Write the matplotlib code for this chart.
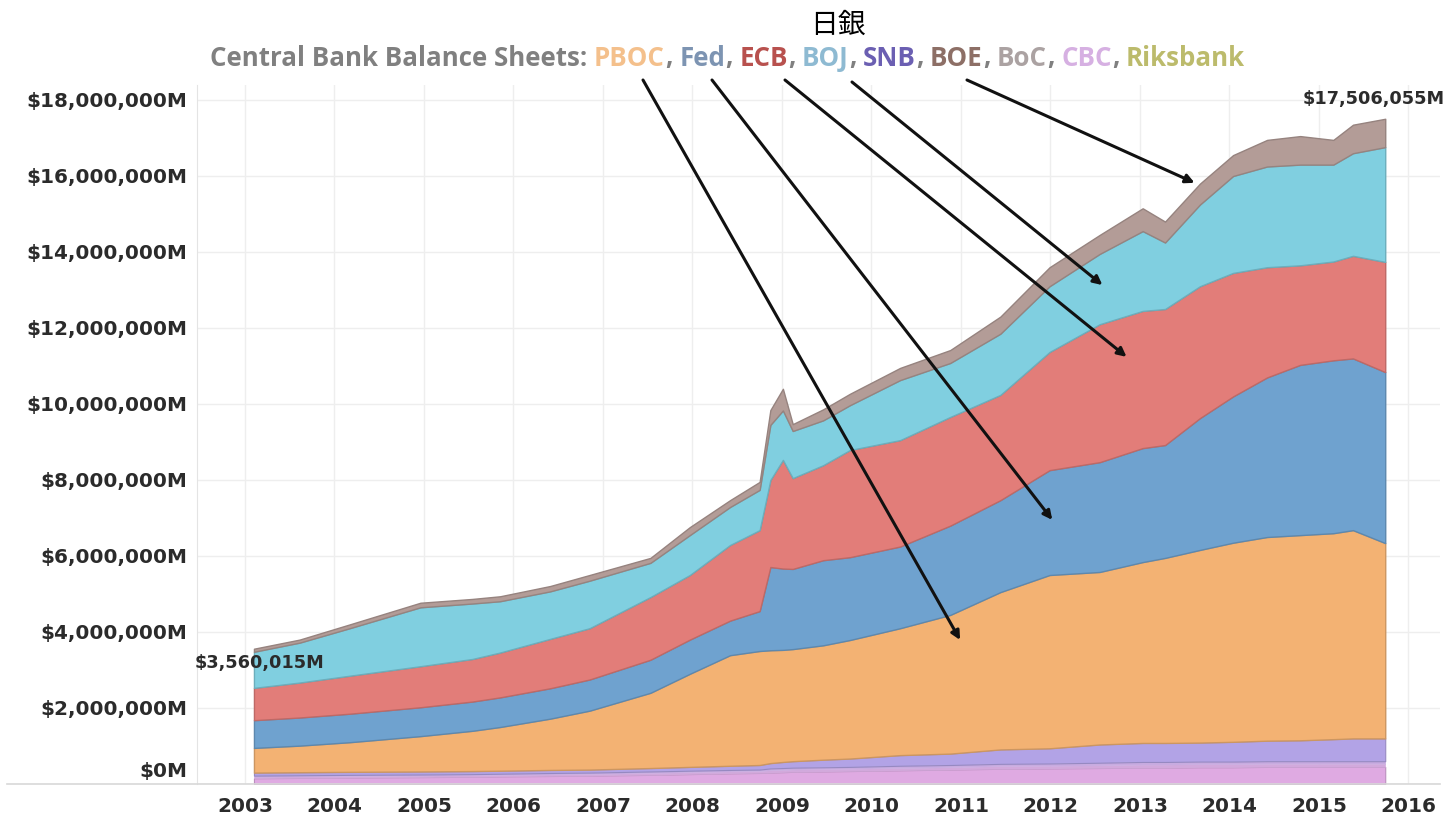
import numpy as np
import matplotlib
matplotlib.use("Agg")
import matplotlib.pyplot as plt
from matplotlib.lines import Line2D
from matplotlib.transforms import ScaledTranslation
from matplotlib.colors import to_rgb

# balance sheets, USD trillion (= $1,000,000M)
dates = [2003.10, 2003.61, 2004.17, 2004.96, 2005.54, 2005.85, 2006.41, 2006.85,
         2007.53, 2007.97, 2008.42, 2008.75, 2008.87, 2009.01, 2009.12, 2009.46,
         2009.76, 2010.32, 2010.88, 2011.44, 2011.99, 2012.55, 2013.03, 2013.28,
         2013.67, 2014.04, 2014.42, 2014.79, 2015.16, 2015.38, 2015.74]

cbc = [0.15, 0.16, 0.17, 0.18, 0.19, 0.20, 0.21, 0.22, 0.24, 0.26, 0.28, 0.29, 0.30, 0.31, 0.32, 0.33,
       0.34, 0.36, 0.38, 0.40, 0.41, 0.42, 0.43, 0.43, 0.44, 0.44, 0.45, 0.45, 0.45, 0.45, 0.45]
boc = [0.04, 0.04, 0.04, 0.04, 0.04, 0.04, 0.04, 0.04, 0.05, 0.05, 0.05, 0.05, 0.06, 0.06, 0.06, 0.06,
       0.06, 0.06, 0.06, 0.07, 0.07, 0.07, 0.08, 0.08, 0.08, 0.08, 0.08, 0.08, 0.08, 0.08, 0.08]
riks = [0.03, 0.03, 0.03, 0.03, 0.03, 0.03, 0.04, 0.04, 0.04, 0.04, 0.04, 0.04, 0.05, 0.05, 0.05, 0.05,
        0.05, 0.06, 0.06, 0.06, 0.06, 0.07, 0.07, 0.07, 0.07, 0.07, 0.07, 0.07, 0.07, 0.07, 0.07]
snb = [0.08, 0.08, 0.08, 0.08, 0.08, 0.08, 0.08, 0.08, 0.09, 0.10, 0.11, 0.12, 0.14, 0.16, 0.17, 0.20,
       0.22, 0.28, 0.30, 0.38, 0.40, 0.48, 0.50, 0.50, 0.50, 0.52, 0.54, 0.55, 0.58, 0.60, 0.60]
pboc = [0.65, 0.70, 0.78, 0.93, 1.06, 1.15, 1.35, 1.55, 1.98, 2.45, 2.91, 3.00, 2.97, 2.95, 2.95, 3.01,
        3.12, 3.34, 3.65, 4.14, 4.56, 4.54, 4.76, 4.87, 5.07, 5.24, 5.36, 5.40, 5.42, 5.48, 5.14]
fed = [0.73, 0.74, 0.75, 0.76, 0.77, 0.78, 0.80, 0.82, 0.87, 0.90, 0.91, 1.05, 2.19, 2.14, 2.11, 2.24,
       2.18, 2.15, 2.35, 2.42, 2.76, 2.89, 3.00, 2.97, 3.47, 3.85, 4.20, 4.48, 4.55, 4.52, 4.50]
ecb = [0.85, 0.92, 1.00, 1.08, 1.12, 1.18, 1.30, 1.35, 1.65, 1.70, 1.99, 2.13, 2.29, 2.86, 2.39, 2.50,
       2.82, 2.80, 2.86, 2.77, 3.11, 3.63, 3.61, 3.58, 3.47, 3.25, 2.90, 2.62, 2.60, 2.70, 2.90]
boj = [0.95, 1.05, 1.25, 1.55, 1.46, 1.35, 1.25, 1.25, 0.90, 1.05, 1.00, 1.06, 1.45, 1.30, 1.24, 1.18,
       1.18, 1.58, 1.42, 1.61, 1.73, 1.85, 2.10, 1.75, 2.15, 2.55, 2.65, 2.65, 2.55, 2.70, 3.02]
boe = [0.08, 0.08, 0.10, 0.12, 0.12, 0.13, 0.14, 0.15, 0.13, 0.21, 0.18, 0.21, 0.39, 0.57, 0.18, 0.29,
       0.30, 0.32, 0.34, 0.45, 0.50, 0.50, 0.60, 0.55, 0.55, 0.55, 0.70, 0.75, 0.65, 0.75, 0.746055]

first_label = "$3,560,015M"
last_label = "$17,506,055M"
year_ticks = list(range(2003, 2017))
value_ticks = list(range(0, 20, 2))

legend_parts = [("Central Bank Balance Sheets:", "#808080"), ("PBOC", "#f4c08c"), ("Fed", "#7d94b2"),
                ("ECB", "#b8514e"), ("BOJ", "#8ebad2"), ("SNB", "#6b5fb2"), ("BOE", "#8d6f66"),
                ("BoC", "#aba2a2"), ("CBC", "#d6b0e2"), ("Riksbank", "#bcbb6c")]

layers = [cbc, boc, riks, snb, pboc, fed, ecb, boj, boe]
fills = ["#dfaae2", "#d2a9dc", "#c8abe0", "#b2a3e6", "#f3b273", "#6fa2cf", "#e27d79", "#80cfe0", "#b39c97"]
edge_w = [0.8, 0.0, 0.0, 0.8, 1.0, 1.0, 1.0, 1.0, 1.0]


def darker(c, f=0.84):
    r, g, b = to_rgb(c)
    return (r * f, g * f, b * f)


W, H = 1443, 819
fig = plt.figure(figsize=(W / 100, H / 100), dpi=100)
fig.patch.set_facecolor("white")
ax = fig.add_axes([197 / W, 35 / H, (1440 - 197) / W, (784 - 85) / H])

polys = ax.stackplot(dates, *layers, colors=fills)
for p, c, lw in zip(polys, fills, edge_w):
    p.set_edgecolor(darker(c) if lw > 0 else c)
    p.set_linewidth(lw if lw > 0 else 0.3)

ax.set_xlim(2002.4637, 2016.352)
ax.set_ylim(0, 18.3947)
ax.set_xticks(year_ticks)
ax.set_xticklabels([str(y) for y in year_ticks])
ax.set_yticks(value_ticks)
ax.set_yticklabels(["$0M" if v == 0 else "${:,}M".format(v * 1000000) for v in value_ticks])
ax.grid(color="#eeeeee", lw=1)
ax.set_axisbelow(True)
for s in ["top", "right", "bottom"]:
    ax.spines[s].set_visible(False)
ax.spines["left"].set_color("#e4e4e4")
ax.tick_params(length=0, labelsize=14.4, labelcolor="#2b2b2b")
ax.tick_params(axis="y", pad=7.2)
ax.tick_params(axis="x", pad=9.0)
for lbl in ax.get_xticklabels() + ax.get_yticklabels():
    lbl.set_fontweight("bold")
zero_lbl = ax.get_yticklabels()[0]
zero_lbl.set_transform(zero_lbl.get_transform() + ScaledTranslation(0, 0.14, fig.dpi_scale_trans))

fig.add_artist(Line2D([7 / W, 1440 / W], [35 / H, 35 / H], color="#d8d8d8", lw=1.2))

totals = np.sum(np.array(layers), axis=0)
ax.annotate(first_label, xy=(dates[0], totals[0]), xytext=(-42.5, -10), textcoords="offset points",
            ha="left", va="center", fontsize=12.8, fontweight="bold", color="#2b2b2b")
ax.annotate(last_label, xy=(dates[-1], totals[-1]), xytext=(43, 14.5), textcoords="offset points",
            ha="right", va="center", fontsize=12.8, fontweight="bold", color="#2b2b2b",
            annotation_clip=False)

# title
fig.text(838 / W, 1 - 25 / H, "日銀", ha="center", va="center", fontsize=20,
         family=["Noto Sans CJK JP", "DejaVu Sans"], color="black")

# coloured subtitle, laid out piece by piece
renderer = fig.canvas.get_renderer()


def layout(fs, draw=False):
    kw = dict(fontsize=fs, fontweight="bold", family=["Open Sans", "DejaVu Sans"])
    def width(s):
        t = fig.text(0, 0, s, **kw)
        w = t.get_window_extent(renderer).width
        t.remove()
        return w
    space = width("a a") - width("aa")
    x = 210.0
    for i, (s, c) in enumerate(legend_parts):
        if draw:
            fig.text(x / W, 1 - 58 / H, s, color=c, va="center", ha="left", **kw)
        x += width(s)
        if 0 < i < len(legend_parts) - 1:
            if draw:
                fig.text(x / W, 1 - 58 / H, ",", color="#808080", va="center", ha="left", **kw)
            x += width(",")
        x += space
    return x - space - 210.0


fs = 15.0
fs = fs * 1033.0 / layout(fs)
layout(fs, draw=True)

# arrows from the legend names down to their layers
arrow_targets = [(2010.99, 3.79), (2012.02, 6.95), (2012.85, 11.24), (2012.58, 13.13), (2013.61, 15.82)]
arrow_starts = [(643, 80), (712, 80), (785, 80), (852, 82), (967, 80)]
for (tx, ty), (sx, sy) in zip(arrow_targets, arrow_starts):
    ax.annotate("", xy=(tx, ty), xycoords="data", xytext=(sx, H - sy), textcoords="figure pixels",
                arrowprops=dict(arrowstyle="-|>", color="#111111", lw=2.2, mutation_scale=13,
                                shrinkA=0, shrinkB=0), annotation_clip=False)

fig.savefig("out.png", dpi=100)
